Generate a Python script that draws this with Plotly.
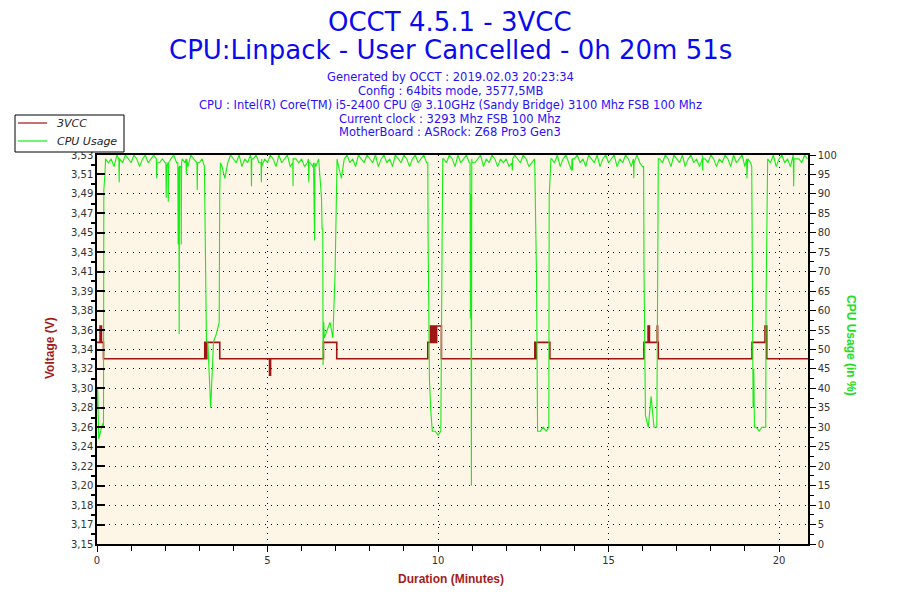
import plotly.graph_objects as go

# ---------------- data ----------------
# CPU usage (%): a 5-second base series ...
sample_step_s = 5
cpu_base = [
    35, 28, 31, 99, 98, 99, 97, 100, 99, 98, 100, 99,
    98, 100, 99, 97, 99, 100, 98, 99, 100, 97, 98, 99,
    98, 97, 99, 100, 98, 97, 99, 98, 97, 100, 99, 98,
    98, 99, 85, 52, 35, 52, 54, 57, 97, 94, 98, 100,
    99, 98, 100, 97, 99, 98, 100, 99, 100, 98, 97, 99,
    98, 100, 99, 97, 100, 98, 99, 100, 97, 99, 99, 98,
    99, 97, 98, 98, 97, 97, 99, 89, 53, 55, 57, 53,
    79, 97, 94, 99, 100, 98, 99, 97, 100, 99, 98, 100,
    99, 98, 100, 97, 99, 100, 98, 99, 97, 100, 99, 98,
    100, 99, 97, 99, 100, 98, 99, 100, 98, 42, 29, 29,
    28, 29, 99, 98, 100, 99, 97, 100, 98, 99, 100, 98,
    98, 98, 99, 100, 97, 99, 98, 100, 99, 97, 99, 98,
    99, 97, 98, 100, 99, 98, 100, 99, 97, 98, 99, 33,
    29, 30, 29, 30, 99, 98, 100, 97, 99, 100, 98, 96,
    99, 100, 98, 99, 97, 100, 99, 98, 100, 97, 99, 100,
    98, 99, 100, 97, 99, 98, 100, 99, 97, 97, 100, 98,
    97, 33, 30, 38, 30, 30, 99, 98, 100, 99, 97, 100,
    99, 98, 100, 97, 99, 100, 98, 99, 97, 100, 99, 98,
    100, 99, 97, 99, 98, 100, 99, 97, 100, 98, 99, 100,
    97, 99, 98, 40, 30, 29, 30, 30, 99, 98, 100, 97,
    99, 100, 98, 99, 97, 100, 99, 99, 98, 100, 99,
]
# ... plus short spikes and sharp edges read at their own times (minutes)
cpu_event_minutes = [
    0.02, 0.05, 0.19, 0.20, 0.24,
    0.64, 0.65, 0.66,
    1.74, 1.75, 1.76,
    2.02, 2.03, 2.04, 2.08, 2.09, 2.10,
    2.37, 2.38, 2.39, 2.40, 2.41, 2.42, 2.46, 2.47, 2.48,
    2.61, 2.62, 2.63,
    2.93, 2.94, 2.95,
    3.15, 3.16, 3.17, 3.19, 3.21,
    3.59, 3.60, 3.62,
    4.52, 4.53, 4.54,
    4.81, 4.82, 4.83,
    5.74, 5.75, 5.76,
    6.20, 6.21, 6.22,
    6.35, 6.36, 6.37, 6.38, 6.39,
    6.58, 6.60, 6.62, 6.63, 6.65,
    6.95, 6.98, 7.01, 7.04,
    9.70, 9.71, 9.72, 9.79, 9.82,
    10.09, 10.12, 10.14,
    10.94, 10.95, 10.96, 10.97, 10.98, 10.99,
    12.17, 12.18, 12.19,
    12.84, 12.86, 12.89, 12.92,
    13.26, 13.31,
    13.93, 13.94, 13.95,
    15.73, 15.74, 15.75,
    16.03, 16.04, 16.07, 16.43, 16.46,
    17.75, 17.76, 17.77,
    19.05, 19.06, 19.07,
    19.20, 19.21, 19.22, 19.24, 19.26, 19.28,
    19.61, 19.62, 19.65,
    20.42, 20.43, 20.44,
]
cpu_event_values = [
    40, 27, 30, 91, 96,
    99, 93, 99,
    99, 94, 98,
    98, 89, 97, 98, 88, 98,
    98, 77, 97, 97, 54, 97, 97, 77, 98,
    99, 95, 99,
    98, 91, 98,
    97, 90, 81, 71, 52,
    82, 91, 98,
    99, 92, 99,
    98, 93, 99,
    98, 92, 99,
    99, 93, 98,
    98, 80, 97, 78, 98,
    91, 81, 81, 46, 57,
    60, 69, 84, 99,
    98, 78, 61, 34, 29,
    44, 78, 99,
    98, 58, 90, 60, 15, 99,
    99, 96, 99,
    96, 82, 68, 29,
    89, 99,
    99, 96, 99,
    99, 94, 98,
    97, 71, 35, 49, 99,
    99, 96, 99,
    99, 94, 98,
    97, 83, 50, 35, 45, 30,
    30, 62, 99,
    99, 92, 99,
]

# 3VCC voltage, step changes (minute, volts)
volt_minutes = [
    0.00, 0.09, 0.10, 0.12, 0.13, 0.19,
    3.16, 3.17, 3.18, 3.19, 3.20, 3.21, 3.22, 3.60,
    5.06, 5.09,
    6.64, 7.03,
    9.70, 9.78, 9.79, 9.81, 9.82, 9.83, 9.84, 9.85, 9.86, 9.87, 9.88,
    9.89, 9.90, 9.91, 9.92, 9.93, 9.95, 9.96, 10.10,
    12.84, 12.85, 12.86, 12.87, 12.88, 13.28,
    16.04, 16.16, 16.17, 16.19, 16.20, 16.43, 16.44, 16.46,
    19.21, 19.59, 19.64, 20.85,
]
volt_values = [
    3.347, 3.363, 3.347, 3.363, 3.347, 3.331,
    3.347, 3.331, 3.347, 3.331, 3.347, 3.331, 3.347, 3.331,
    3.315, 3.331,
    3.347, 3.331,
    3.347, 3.363, 3.347, 3.363, 3.347, 3.363, 3.347, 3.363, 3.347, 3.363, 3.347,
    3.363, 3.347, 3.363, 3.347, 3.363, 3.347, 3.363, 3.331,
    3.347, 3.331, 3.347, 3.331, 3.347, 3.331,
    3.347, 3.363, 3.347, 3.363, 3.347, 3.363, 3.347, 3.331,
    3.347, 3.363, 3.331, 3.331,
]

volt_tick_labels = ["3,15", "3,17", "3,18", "3,20", "3,22", "3,24", "3,26",
                    "3,28", "3,30", "3,32", "3,34", "3,36", "3,38", "3,39",
                    "3,41", "3,43", "3,45", "3,47", "3,49", "3,51", "3,53"]
x_tick_values = [0, 5, 10, 15, 20]

series_names = ["3VCC", "CPU Usage"]
title_lines = ["OCCT 4.5.1 - 3VCC", "CPU:Linpack - User Cancelled - 0h 20m 51s"]
info_lines = [
    "Generated by OCCT : 2019.02.03 20:23:34",
    "Config : 64bits mode, 3577,5MB",
    "CPU : Intel(R) Core(TM) i5-2400 CPU @ 3.10GHz (Sandy Bridge) 3100 Mhz FSB 100 Mhz",
    "Current clock : 3293 Mhz FSB 100 Mhz",
    "MotherBoard : ASRock: Z68 Pro3 Gen3",
]

# merge the base samples and the event points in time order
cpu_points = sorted(
    [(i * sample_step_s / 60, v) for i, v in enumerate(cpu_base)]
    + list(zip(cpu_event_minutes, cpu_event_values))
)
cpu_minutes = [p[0] for p in cpu_points]
cpu_usage = [p[1] for p in cpu_points]

# ---------------- style ----------------
VOLT_COLOR = "#A01414"
CPU_COLOR = "#14EE14"
TITLE_BLUE = "#0A0AF0"
INFO_BLUE = "#2A10F8"
AXIS_RED = "#A51C1C"
BG = "#FDF5E6"
FONT = "Verdana, DejaVu Sans, sans-serif"

V_MIN, V_MAX = 3.15, 3.53
n_int = len(volt_tick_labels) - 1
volt_tick_vals = [V_MIN + (V_MAX - V_MIN) * k / n_int for k in range(n_int + 1)]

OFF = 8  # page body margin of the html page
W, H = 892, 592
PL, PR, PT, PB = 97, 808, 155, 544  # plot area in window pixels
L, T = PL - OFF, PT - OFF
R, B = W - (PR - OFF), H - (PB - OFF)
PW, PH = PR - PL, PB - PT


def px(xp):
    return (xp - PL) / PW


def py(yp):
    return (PB - yp) / PH


fig = go.Figure()
fig.add_trace(go.Scatter(
    x=volt_minutes, y=volt_values, name=series_names[0], mode="lines",
    line=dict(color=VOLT_COLOR, width=1.6, shape="hv"), yaxis="y",
    hoverinfo="skip", showlegend=False))
fig.add_trace(go.Scatter(
    x=cpu_minutes, y=cpu_usage, name=series_names[1], mode="lines",
    line=dict(color=CPU_COLOR, width=1.1), yaxis="y2", hoverinfo="skip",
    showlegend=False))

grid_dash = "1px,5px"
tick_font = dict(family=FONT, size=10, color="#333333")

fig.update_layout(
    width=W, height=H,
    margin=dict(l=L, r=R, t=T, b=B, pad=0),
    paper_bgcolor="white", plot_bgcolor=BG,
    font=dict(family=FONT),
    showlegend=False,
    xaxis=dict(
        range=[0, 20.85], tickvals=x_tick_values, ticks="outside", ticklen=6,
        tickwidth=1, tickcolor="black", showline=True, linecolor="black",
        linewidth=1.5, mirror=True, zeroline=False, showgrid=True,
        gridcolor="black", gridwidth=1, griddash=grid_dash, tickfont=tick_font,
        minor=dict(dtick=1, ticks="outside", ticklen=5, tickcolor="black",
                   showgrid=False),
    ),
    yaxis=dict(
        range=[V_MIN, V_MAX], tickvals=volt_tick_vals, ticktext=volt_tick_labels,
        ticks="inside", ticklen=8, tickwidth=1.5, tickcolor="black",
        showline=True, linecolor="black", linewidth=1.5, zeroline=False,
        showgrid=True, gridcolor="black", gridwidth=1, griddash=grid_dash,
        tickfont=tick_font,
        minor=dict(tickvals=[(volt_tick_vals[k] + volt_tick_vals[k + 1]) / 2
                             for k in range(n_int)],
                   ticks="outside", ticklen=4, tickcolor="black", showgrid=False),
    ),
    yaxis2=dict(
        range=[0, 100], dtick=5, overlaying="y", side="right", anchor="x",
        ticks="outside", ticklen=6, tickcolor="black", showline=True,
        linecolor="black", linewidth=1.5, zeroline=False, showgrid=False,
        tickfont=tick_font,
        minor=dict(dtick=2.5, ticks="outside", ticklen=4, tickcolor="black",
                   showgrid=False),
    ),
)

# legend box drawn as in the original (white box, short line samples, italic names)
shapes = [dict(type="rect", xref="paper", yref="paper",
               x0=px(15), x1=px(124), y0=py(152), y1=py(115),
               line=dict(color="black", width=1), fillcolor="white", layer="above")]
ann = []
for name, color, yy in zip(series_names, [VOLT_COLOR, CPU_COLOR], [123, 141]):
    shapes.append(dict(type="line", xref="paper", yref="paper",
                       x0=px(18), x1=px(47), y0=py(yy), y1=py(yy),
                       line=dict(color=color, width=1.2), layer="above"))
    ann.append(dict(text=name, x=px(55), y=py(yy), xref="paper", yref="paper",
                    xanchor="left", yanchor="middle", showarrow=False,
                    font=dict(family=FONT, size=11, color="#222222",
                              style="italic")))

for txt, yy in zip(title_lines, [22, 50]):
    ann.append(dict(text=txt, x=px(450), y=py(yy), xref="paper", yref="paper",
                    xanchor="center", yanchor="middle", showarrow=False,
                    font=dict(family=FONT, size=26, color=TITLE_BLUE)))
for txt, yy in zip(info_lines, [77, 91, 105, 119, 132]):
    ann.append(dict(text=txt, x=px(450), y=py(yy), xref="paper", yref="paper",
                    xanchor="center", yanchor="middle", showarrow=False,
                    font=dict(family=FONT, size=11.5, color=INFO_BLUE)))
ann.append(dict(text="<b>Voltage (V)</b>", x=px(50), y=py(348), xref="paper",
                yref="paper", textangle=-90, showarrow=False,
                xanchor="center", yanchor="middle",
                font=dict(family="Liberation Sans, Arial", size=12, color=AXIS_RED)))
ann.append(dict(text="<b>CPU Usage (in %)</b>", x=px(851), y=py(345), xref="paper",
                yref="paper", textangle=90, showarrow=False,
                xanchor="center", yanchor="middle",
                font=dict(family="Liberation Sans, Arial", size=12, color="#22DD22")))
ann.append(dict(text="<b>Duration (Minutes)</b>", x=px(451), y=py(579), xref="paper",
                yref="paper", showarrow=False, xanchor="center", yanchor="middle",
                font=dict(family="Liberation Sans, Arial", size=12, color=AXIS_RED)))
fig.update_layout(annotations=ann, shapes=shapes)

fig.write_html("out.html")
